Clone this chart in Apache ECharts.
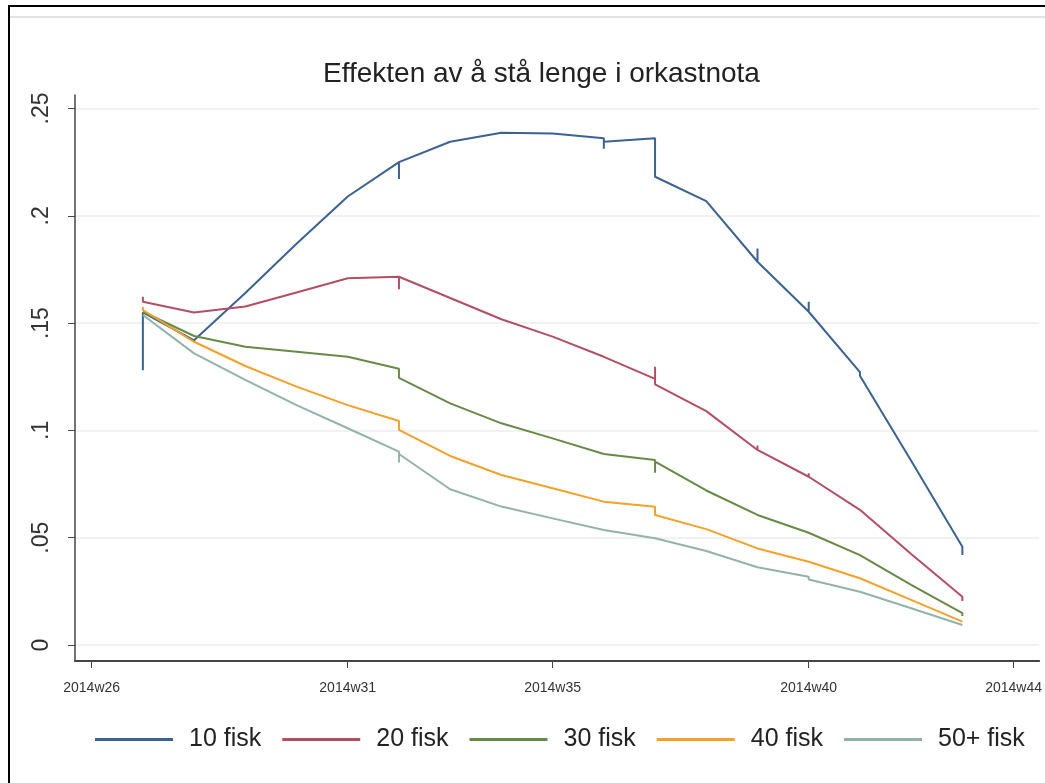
<!DOCTYPE html>
<html>
<head>
<meta charset="utf-8">
<script src="https://cdn.jsdelivr.net/npm/echarts@6/dist/echarts.min.js"></script>
<style>
  html, body { margin: 0; padding: 0; background: #fff; }
  #chart { width: 1045px; height: 783px; }
</style>
</head>
<body>
<div id="chart"></div>
<script>
// weeks with tick labels
const weekTicks = [26, 31, 35, 40, 44]
const yTicks = [0, 0.05, 0.1, 0.15, 0.2, 0.25]
const seriesNames = ['10 fisk', '20 fisk', '30 fisk', '40 fisk', '50+ fisk']

// [week, value] - several observations can fall in the same week
const fisk10 = [[27, 0.128], [27, 0.155], [28, 0.142], [29, 0.164], [30, 0.187], [31, 0.209],
  [32, 0.2250], [32, 0.2172], [32, 0.2250], [33, 0.2345], [34, 0.2387],
  [35, 0.2384], [35, 0.2393], [35, 0.2384], [36, 0.2362], [36, 0.2312], [36, 0.2345],
  [37, 0.2361], [37, 0.2182], [38, 0.2068], [39, 0.1786], [39, 0.1848], [39, 0.1786],
  [40, 0.1553], [40, 0.1600], [40, 0.1553], [41, 0.1272], [41, 0.1255], [42, 0.0859],
  [43, 0.0458], [43, 0.0419]]
const fisk20 = [[27, 0.1623], [27, 0.160], [28, 0.1549], [29, 0.1577], [30, 0.1643], [31, 0.1709],
  [32, 0.1716], [32, 0.1658], [32, 0.1716], [33, 0.1617], [34, 0.1518], [35, 0.1437],
  [36, 0.1343], [37, 0.1240], [37, 0.1297], [37, 0.1215], [38, 0.1090],
  [39, 0.0909], [39, 0.0930], [39, 0.0909], [40, 0.0784], [40, 0.0800], [40, 0.0784],
  [41, 0.0630], [42, 0.0424], [43, 0.0225], [43, 0.0205]]
const fisk30 = [[27, 0.1553], [28, 0.1440], [29, 0.1390], [30, 0.1367], [31, 0.1343],
  [32, 0.1287], [32, 0.1245], [33, 0.1126], [34, 0.1033], [35, 0.0963], [36, 0.0890],
  [37, 0.0862], [37, 0.0803], [37, 0.0855], [38, 0.0720], [39, 0.0606], [39, 0.0615], [39, 0.0606],
  [40, 0.0523], [40, 0.0532], [40, 0.0523], [41, 0.0419], [42, 0.0280], [43, 0.0148], [43, 0.0135]]
const fisk40 = [[27, 0.1575], [27, 0.1561], [28, 0.1413], [29, 0.1300], [30, 0.1204], [31, 0.1118],
  [32, 0.1044], [32, 0.1002], [33, 0.0881], [34, 0.0792], [35, 0.0730], [36, 0.0668],
  [37, 0.0644], [37, 0.0606], [38, 0.0540], [39, 0.0450], [39, 0.0458],
  [40, 0.0388], [40, 0.0395], [40, 0.0388], [41, 0.0311], [42, 0.0210], [43, 0.0109]]
const fisk50 = [[27, 0.1538], [28, 0.1359], [29, 0.1235], [30, 0.1118], [31, 0.1010],
  [32, 0.0901], [32, 0.0850], [32, 0.0890], [33, 0.0726], [34, 0.0645], [35, 0.0590],
  [36, 0.0536], [37, 0.0497], [37, 0.0490], [38, 0.0438], [39, 0.0362],
  [40, 0.0318], [40, 0.0305], [41, 0.0248], [42, 0.0171], [43, 0.0093]]

const colors = ['#3b6290', '#b14f65', '#678a48', '#f2a12a', '#93b2ab']

let myChart = echarts.init(document.getElementById('chart'))
let allData = [fisk10, fisk20, fisk30, fisk40, fisk50]

let option = {
  animation: false,
  backgroundColor: '#fff',
  color: colors,
  textStyle: { fontFamily: 'Liberation Sans, Arial, sans-serif' },
  title: {
    text: 'Effekten av å stå lenge i orkastnota',
    left: 318,
    top: 55,
    textStyle: { fontSize: 28, fontWeight: 'normal', color: '#222' }
  },
  graphic: [
    {
      type: 'rect',
      shape: { x: 9, y: 6, width: 1100, height: 820 },
      style: { fill: null, stroke: '#000', lineWidth: 2 },
      silent: true
    },
    {
      type: 'line',
      shape: { x1: 10, y1: 17, x2: 1045, y2: 17 },
      style: { stroke: '#e4e4e4', lineWidth: 2 },
      silent: true
    }
  ],
  legend: {
    data: seriesNames,
    left: 90,
    top: 722,
    icon: 'rect',
    itemWidth: 78,
    itemHeight: 3,
    itemGap: 21,
    textStyle: { fontSize: 25, color: '#222', padding: [0, 0, 0, 11] }
  },
  grid: {
    left: 75,
    top: 95,
    width: 966,
    height: 566
  },
  xAxis: {
    type: 'value',
    min: 25.675,
    max: 44.5,
    axisLine: { onZero: false, lineStyle: { color: '#444', width: 2 } },
    axisTick: { length: 7, lineStyle: { color: '#444' }, customValues: weekTicks },
    axisLabel: {
      customValues: weekTicks,
      margin: 20,
      fontSize: 14,
      color: '#333',
      formatter: v => '2014w' + v
    },
    splitLine: { show: false }
  },
  yAxis: {
    type: 'value',
    min: -0.00746,
    max: 0.2563,
    axisLine: { show: true, onZero: false, lineStyle: { color: '#444', width: 1.5 } },
    axisTick: { show: true, length: 7, lineStyle: { color: '#444' }, customValues: yTicks },
    axisLabel: {
      customValues: yTicks,
      rotate: 90,
      margin: 22,
      fontSize: 23,
      color: '#333',
      formatter: v => v === 0 ? '0' : String(v).replace(/^0/, '')
    },
    splitLine: { show: true, lineStyle: { color: '#ececec', width: 1.5 } }
  },
  series: seriesNames.map((name, i) => {
    return {
      name: name,
      type: 'line',
      data: allData[i],
      symbol: 'none',
      lineStyle: { width: 2, color: colors[i] },
      itemStyle: { color: colors[i] }
    }
  })
}

myChart.setOption(option)
</script>
</body>
</html>
